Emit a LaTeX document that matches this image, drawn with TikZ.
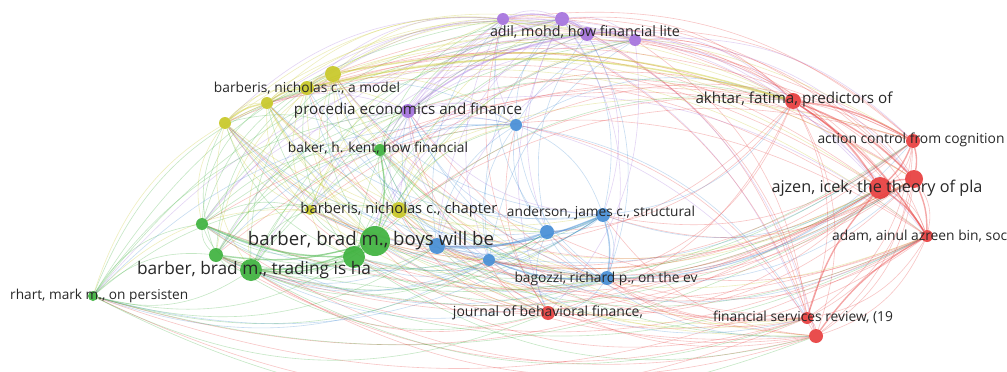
\documentclass[tikz,border=0pt]{standalone}
\usepackage{fontspec}
\setmainfont{Open Sans}
\usepackage{graphicx}
\pgfdeclarelayer{bg}
\pgfdeclarelayer{edges}
\pgfsetlayers{bg,edges,main}
\definecolor{vred}{RGB}{232,62,62}
\definecolor{vgreen}{RGB}{62,178,62}
\definecolor{vblue}{RGB}{70,142,214}
\definecolor{vyellow}{RGB}{200,200,40}
\definecolor{vpurple}{RGB}{165,115,222}
\definecolor{labtext}{RGB}{40,40,40}
\tikzset{
  vnode/.style={circle,inner sep=0pt,fill opacity=0.92},
  edge/.style={line width=0.6pt,draw opacity=0.3},
  thick edge/.style={line width=1.4pt,draw opacity=0.45},
  lab/.style={inner sep=0pt,text=labtext}
}
\def\nodelist{p1/503/19/vpurple/6,p2/562/19/vpurple/7,p3/587/34/vpurple/7,p4/635/40/vpurple/6,p5/408/111/vpurple/7,
y1/333/74/vyellow/8,y2/307/88/vyellow/7,y3/267/103/vyellow/6,y4/225/123/vyellow/6,y5/310/210/vyellow/5,y6/399/210/vyellow/8,
g0/380/150/vgreen/6,g1/202/224/vgreen/6,g2/216/255/vgreen/7,g3/251/270/vgreen/11,g4/354/257/vgreen/11,g5/375/241/vgreen/15,g6/93/296/vgreen/5,
b1/516/125/vblue/6,b2/437/246/vblue/8,b3/489/260/vblue/6,b4/547/232/vblue/7,b5/603/215/vblue/7,b6/607/278/vblue/7,
r1/793/101/vred/8,r2/913/141/vred/7,r3/880/188/vred/11,r4/914/179/vred/9,r5/927/236/vred/6,r6/548/313/vred/7,r7/807/318/vred/6,r8/816/336/vred/7}
\begin{document}
\begin{tikzpicture}[x=1pt,y=-1pt]
\begin{pgfonlayer}{bg}
\fill[white] (0,0) rectangle (1007,372);
\end{pgfonlayer}
\useasboundingbox (0,0) rectangle (1007,372);
% nodes
\foreach \n/\x/\y/\c/\r in \nodelist {
  \node[vnode,fill=\c,minimum size=2*\r pt] (\n) at (\x,\y) {};
}
% edges
\begin{pgfonlayer}{edges}
\foreach \na/\xa/\ya/\ca/\ra [count=\i] in \nodelist {
  \foreach \nb/\xb/\yb/\cb/\rb [count=\j] in \nodelist {
    \ifnum\j>\i
      \pgfmathtruncatemacro\eskip{mod(\i*7+\j*11,10)}
      \ifnum\eskip>2
        \pgfmathsetmacro\anga{atan2(\ya-190,\xa-560)}
        \pgfmathsetmacro\angb{atan2(\yb-190,\xb-560)}
        \pgfmathtruncatemacro\cw{mod(\angb-\anga+720,360)<180}
        \pgfmathtruncatemacro\epar{mod(\i+\j,2)}
        \ifnum\epar=0 \edef\ec{\ca}\else\edef\ec{\cb}\fi
        \ifnum\cw=1
          \draw[edge,\ec] (\na) to[bend left=24] (\nb);
        \else
          \draw[edge,\ec] (\nb) to[bend left=24] (\na);
        \fi
      \fi
    \fi
  }
}
% strong links
\foreach \u/\v in {r1/r2,r1/r3,r1/r4,r2/r4,r2/r3,r3/r5,r4/r5,r3/r4,r1/r5,r7/r3,r8/r5}
  {\draw[thick edge,vred] (\u) to[bend left=12] (\v);}
\foreach \u/\v in {g3/g4,g3/g5,g2/g5,g1/g4,g4/g5,g5/g0}
  {\draw[thick edge,vgreen] (\u) to[bend right=12] (\v);}
\foreach \u/\v in {b2/b4,b4/b5,b6/b5,b3/b6,b2/b5}
  {\draw[thick edge,vblue] (\u) to[bend right=12] (\v);}
\foreach \u/\v in {y4/y3,y3/y2,y2/y1,y1/r1,y2/r1}
  {\draw[thick edge,vyellow] (\u) to[bend left=14] (\v);}
\foreach \u/\v in {p1/p2,p2/p3,p3/p4,p5/p3}
  {\draw[thick edge,vpurple] (\u) to[bend left=14] (\v);}
\end{pgfonlayer}
% labels
\node[lab] (l-p5) at (p5) {\resizebox{228pt}{!}{procedia economics and finance}};
\node[lab] (l-p3) at (585,32) {\resizebox{190pt}{!}{adil, mohd, how financial lite}};
\node[lab] (l-y2) at (y2) {\resizebox{186pt}{!}{barberis, nicholas c., a model}};
\node[lab] (l-y6) at (y6) {\resizebox{197pt}{!}{barberis, nicholas c., chapter}};
\node[lab] (l-g0) at (378,148) {\resizebox{180pt}{!}{baker, h. kent, how financial}};
\node[lab] (l-g5) at (371,241) {\resizebox{246pt}{!}{barber, brad m., boys will be}};
\node[lab] (l-g3) at (254,270) {\resizebox{234pt}{!}{barber, brad m., trading is ha}};
\node[lab,anchor=west] (l-g6) at (10,296) {\resizebox{178pt}{!}{rhart, mark m., on persisten}};
\node[lab] (l-b5) at (601,213) {\resizebox{188pt}{!}{anderson, james c., structural}};
\node[lab] (l-b6) at (606,279) {\resizebox{183pt}{!}{bagozzi, richard p., on the ev}};
\node[lab] (l-r1) at (794,100) {\resizebox{197pt}{!}{akhtar, fatima, predictors of}};
\node[lab] (l-r2) at (911,140) {\resizebox{187pt}{!}{action control from cognition}};
\node[lab] (l-r3) at (877,188) {\resizebox{211pt}{!}{ajzen, icek, the theory of pla}};
\node[lab,anchor=west] (l-r5) at (832,236) {\resizebox{175pt}{!}{adam, ainul azreen bin, soc}};
\node[lab] (l-r6) at (548,313) {\resizebox{190pt}{!}{journal of behavioral finance,}};
\node[lab] (l-r7) at (803,317) {\resizebox{180pt}{!}{financial services review, (19}};
\end{tikzpicture}
\end{document}
